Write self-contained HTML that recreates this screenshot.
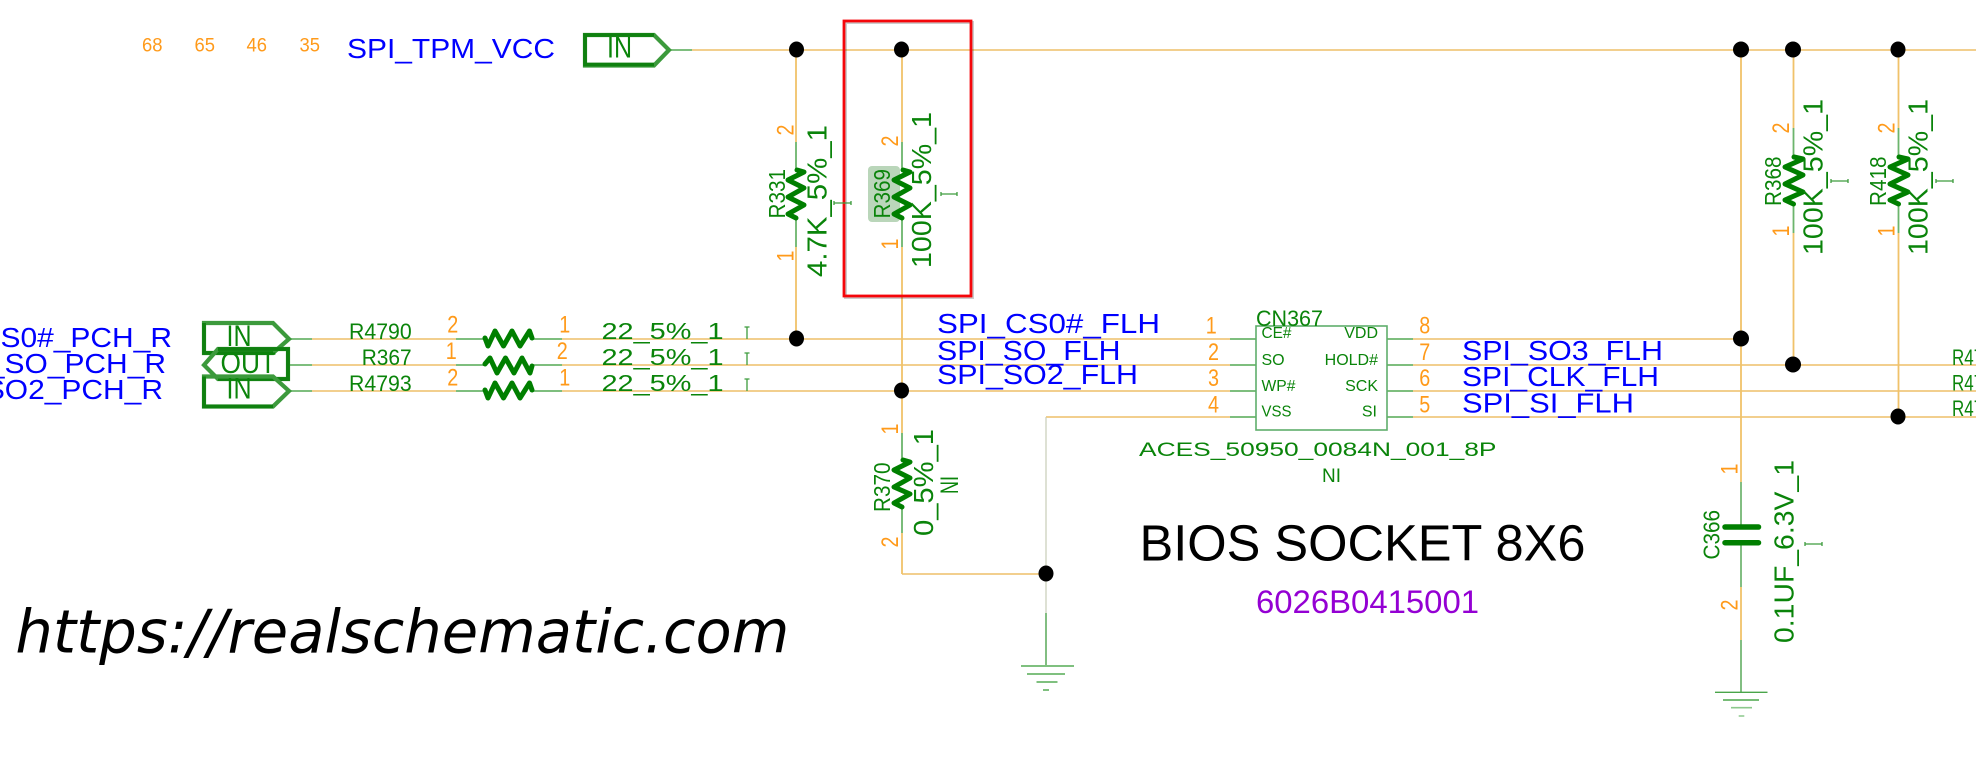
<!DOCTYPE html>
<html>
<head>
<meta charset="utf-8">
<title>BIOS SOCKET 8X6 schematic</title>
<style>
html,body{margin:0;padding:0;background:#fff;width:1976px;height:775px;overflow:hidden}
svg{display:block}
text{font-family:"Liberation Sans",sans-serif;white-space:pre}
.b{fill:#0000ff;font-size:27.500px}
.o{fill:#ff9a1a;font-size:24px}
.g{fill:#0a840a}
.w{stroke:#f2cf8e;stroke-width:2;fill:none}
.v{stroke:#f0c26a;stroke-width:1.8;fill:none}
.p{stroke:#6cb56c;stroke-width:1.8;fill:none}
.z{stroke:#007f00;stroke-width:5;fill:none;stroke-linejoin:round;stroke-linecap:round}
.m{stroke:#3d9c3d;stroke-width:1.3;fill:none}
.port{fill:none;stroke:#0f800f;stroke-width:3.800}
.port2{fill:none;stroke:#3c9a3c;stroke-width:4.200}
</style>
</head>
<body>
<svg width="1976" height="775" viewBox="0 0 1976 775" xmlns="http://www.w3.org/2000/svg">
<rect width="1976" height="775" fill="#fff"/>

<!-- highlight -->
<rect x="868" y="166" width="32" height="56" rx="4" fill="#bad6ba"/>

<!-- wires horizontal -->
<path class="p" d="M670 50H692M289 339H312M289 365H312M289 391H312M456 339H484M532 339H562M456 365H484M532 365H562M456 391H484M532 391H562M1230 339H1256M1230 365H1256M1230 391H1256M1230 417H1256M1387 339H1413M1387 365H1413M1387 391H1413M1387 417H1413"/>
<path class="w" d="M692 50H1976M312 339H456M562 339H1230M312 365H456M562 365H1230M312 391H456M562 391H1230M1413 339H1741M1413 365H1976M1413 391H1976M1413 417H1976"/>
<path class="w" d="M1046 417H1230M902 574H1040"/>

<!-- wires vertical -->
<path class="v" d="M796 50V142M796 247V339M902 50V142M902 247V433M902 533V574M1741 50V482M1741 587V640M1793.500 50V128M1793.500 233V365M1898.500 50V128M1898.500 233V417"/>
<path d="M1046 417V613" stroke="#c9cdb8" stroke-width="1.2" fill="none"/>
<path class="p" d="M796 142V170M796 218V247M902 142V170M902 218V247M902 433V458M902 508V533M1793.500 128V157M1793.500 204V233M1898.500 128V157M1898.500 204V233"/>
<path d="M1741 482V527M1741 543V587M1741 640V692M1046 613V666" stroke="#3f9c3f" stroke-width="1.3" fill="none"/>

<!-- zigzag resistors -->
<path class="z" d="M485 338L488 346L495 331L503.500 346L512 331L520 346L529.500 331L532 338"/>
<path class="z" d="M485 364L490 358L497 373L505.500 358L514 373L522 358L530 373L532 366"/>
<path class="z" d="M485 390L488 398L495 383L503.500 398L512 383L520 398L529.500 383L532 390"/>
<path class="z" d="M796 218L788 214L804 205L788 197L804 188L788 180L804 172L797 170"/>
<path class="z" d="M902 218L894 214L910 205L894 197L910 188L894 180L910 172L903 170"/>
<path class="z" d="M902 507L894 503L910 494L894 487L910 478L894 470L910 462L903 460"/>
<path class="z" d="M1793.500 204L1785 200L1803 192L1785 184L1803 175L1785 167L1803 159L1794 157"/>
<path class="z" d="M1898.500 204L1890 200L1908 192L1890 184L1908 175L1890 167L1908 159L1899 157"/>

<!-- capacitor -->
<path d="M1725 527H1758.500M1725 542.700H1758.500" stroke="#007f00" stroke-width="5.500" stroke-linecap="round"/>

<!-- grounds -->
<path d="M1715 692.300H1767.500M1723 700H1759" stroke="#4aa54a" stroke-width="1.400"/>
<path d="M1731 707.700H1752M1738.700 716H1744.300" stroke="#8cc88c" stroke-width="1.600"/>
<path d="M1021 666H1074M1027 674H1065M1036.500 682H1057.500M1043 690H1049" stroke="#7fc07f" stroke-width="2"/>

<!-- ports -->
<polygon class="port2" points="585,35 654,35 669,50 654,65.500 585,65.500"/>
<path class="port" d="M654 35H585V64.500H654"/>
<polygon class="port2" points="204,323 273,323 289,339 273,353 204,353"/>
<path class="port" d="M273 353H204V323"/>
<polygon class="port2" points="204,365 218,349 288,349 288,379 218,379"/>
<path class="port" d="M218 349H288V379H218"/>
<polygon class="port2" points="204,376.500 273,376.500 289,391 273,406.500 204,406.500"/>
<path class="port" d="M204 376.500V406.500H273"/>

<!-- chip -->
<rect x="1256" y="326" width="131" height="104" fill="#fff" stroke="#5fae6c" stroke-width="1.600"/>

<!-- dots -->
<g fill="#000">
<ellipse cx="796.500" cy="49.500" rx="7.500" ry="8"/>
<ellipse cx="901.500" cy="49.500" rx="7.500" ry="8"/>
<ellipse cx="1741" cy="49.500" rx="8" ry="8"/>
<ellipse cx="1793" cy="49.500" rx="8" ry="8"/>
<ellipse cx="1898" cy="49.500" rx="7.500" ry="8"/>
<ellipse cx="796.500" cy="338.500" rx="7.500" ry="8"/>
<ellipse cx="901.500" cy="390.500" rx="7.500" ry="8"/>
<ellipse cx="1741" cy="338.500" rx="8" ry="8"/>
<ellipse cx="1793" cy="364.500" rx="8" ry="8"/>
<ellipse cx="1898" cy="416.500" rx="7.500" ry="8"/>
<ellipse cx="1046" cy="573.500" rx="7.500" ry="8"/>
</g>

<!-- red box -->
<rect x="845.500" y="22.500" width="127" height="275" fill="none" stroke="#000" stroke-opacity="0.2" stroke-width="3"/>
<rect x="844" y="21" width="127" height="275" fill="none" stroke="#f5060a" stroke-width="2.800"/>

<!-- small markers -->
<path class="m" d="M747 327V339M744.500 327H749.500M747 353V365M744.500 353H749.500M747 379V391M744.500 379H749.500"/>
<path class="m" d="M834 203H851M834 201V205M851 201V205M941 194H957M941 192V196M957 192V196M1831 181H1848M1831 179V183M1848 179V183M1936 181H1953M1936 179V183M1953 179V183M1805 544H1822M1805 542V546M1822 542V546"/>

<!-- top-left numbers -->
<g style="fill:#ff9a1a;font-size:19.500px">
<text x="142" y="51.500" textLength="20.500" lengthAdjust="spacingAndGlyphs">68</text>
<text x="194.500" y="51.500" textLength="20.500" lengthAdjust="spacingAndGlyphs">65</text>
<text x="246.500" y="51.500" textLength="20.500" lengthAdjust="spacingAndGlyphs">46</text>
<text x="299.500" y="51.500" textLength="20.500" lengthAdjust="spacingAndGlyphs">35</text>
</g>

<!-- blue labels -->
<text class="b" x="347" y="58" textLength="208" lengthAdjust="spacingAndGlyphs">SPI_TPM_VCC</text>
<text class="b" text-anchor="end" transform="translate(172,347) scale(1.09,1)">SPI_CS0#_PCH_R</text>
<text class="b" text-anchor="end" transform="translate(166,373) scale(1.09,1)">SPI_SO_PCH_R</text>
<text class="b" text-anchor="end" transform="translate(163,399) scale(1.09,1)">SPI_SO2_PCH_R</text>
<text class="b" x="937" y="333" textLength="223" lengthAdjust="spacingAndGlyphs">SPI_CS0#_FLH</text>
<text class="b" x="937" y="360" textLength="183.500" lengthAdjust="spacingAndGlyphs">SPI_SO_FLH</text>
<text class="b" x="937" y="384" textLength="201" lengthAdjust="spacingAndGlyphs">SPI_SO2_FLH</text>
<text class="b" x="1462" y="360" textLength="201" lengthAdjust="spacingAndGlyphs">SPI_SO3_FLH</text>
<text class="b" x="1462" y="386" textLength="197" lengthAdjust="spacingAndGlyphs">SPI_CLK_FLH</text>
<text class="b" x="1462" y="412.500" textLength="172" lengthAdjust="spacingAndGlyphs">SPI_SI_FLH</text>

<!-- port labels -->
<g class="g" style="font-size:30px">
<text x="607" y="57.500" textLength="25" lengthAdjust="spacingAndGlyphs">IN</text>
<text x="226.500" y="346" textLength="25" lengthAdjust="spacingAndGlyphs">IN</text>
<text x="220.500" y="373" textLength="55.500" lengthAdjust="spacingAndGlyphs">OUT</text>
<text x="226.500" y="398.500" textLength="25" lengthAdjust="spacingAndGlyphs">IN</text>
</g>

<!-- row resistor labels -->
<g class="g" style="font-size:21.800px">
<text x="349" y="339" textLength="62.700" lengthAdjust="spacingAndGlyphs">R4790</text>
<text x="361.700" y="365" textLength="50" lengthAdjust="spacingAndGlyphs">R367</text>
<text x="349" y="391" textLength="62.700" lengthAdjust="spacingAndGlyphs">R4793</text>
<text x="1952" y="365" textLength="50" lengthAdjust="spacingAndGlyphs">R4791</text>
<text x="1952" y="390.500" textLength="50" lengthAdjust="spacingAndGlyphs">R4792</text>
<text x="1952" y="416" textLength="50" lengthAdjust="spacingAndGlyphs">R4794</text>
</g>
<g class="g" style="font-size:23px">
<text x="601.500" y="339" textLength="122" lengthAdjust="spacingAndGlyphs">22_5%_1</text>
<text x="601.500" y="365" textLength="122" lengthAdjust="spacingAndGlyphs">22_5%_1</text>
<text x="601.500" y="391" textLength="122" lengthAdjust="spacingAndGlyphs">22_5%_1</text>
</g>

<!-- pin numbers horizontal -->
<g class="o">
<text x="447.300" y="332.700" textLength="11" lengthAdjust="spacingAndGlyphs">2</text>
<text x="559.300" y="332.700" textLength="11" lengthAdjust="spacingAndGlyphs">1</text>
<text x="445.700" y="359" textLength="11" lengthAdjust="spacingAndGlyphs">1</text>
<text x="556.700" y="359" textLength="11" lengthAdjust="spacingAndGlyphs">2</text>
<text x="447.300" y="385.300" textLength="11" lengthAdjust="spacingAndGlyphs">2</text>
<text x="559.300" y="385.300" textLength="11" lengthAdjust="spacingAndGlyphs">1</text>
<text x="1205.800" y="333.300" textLength="11" lengthAdjust="spacingAndGlyphs">1</text>
<text x="1208" y="360" textLength="11" lengthAdjust="spacingAndGlyphs">2</text>
<text x="1208" y="386" textLength="11" lengthAdjust="spacingAndGlyphs">3</text>
<text x="1208" y="412.300" textLength="11" lengthAdjust="spacingAndGlyphs">4</text>
<text x="1419.300" y="333.300" textLength="11" lengthAdjust="spacingAndGlyphs">8</text>
<text x="1419.300" y="360" textLength="11" lengthAdjust="spacingAndGlyphs">7</text>
<text x="1419.300" y="386" textLength="11" lengthAdjust="spacingAndGlyphs">6</text>
<text x="1419.300" y="412.300" textLength="11" lengthAdjust="spacingAndGlyphs">5</text>
</g>

<!-- chip text -->
<text class="g" x="1256" y="326" textLength="67" lengthAdjust="spacingAndGlyphs" style="font-size:22px">CN367</text>
<g class="g" style="font-size:16px">
<text x="1261.500" y="338" textLength="30" lengthAdjust="spacingAndGlyphs">CE#</text>
<text x="1261.500" y="365">SO</text>
<text x="1261.500" y="391" textLength="34" lengthAdjust="spacingAndGlyphs">WP#</text>
<text x="1261.500" y="416.500" textLength="30" lengthAdjust="spacingAndGlyphs">VSS</text>
<g text-anchor="end">
<text x="1378" y="338">VDD</text>
<text x="1378" y="365">HOLD#</text>
<text x="1378" y="391">SCK</text>
<text x="1377" y="416.500">SI</text>
</g>
</g>
<text class="g" x="1139" y="456" textLength="357.500" lengthAdjust="spacingAndGlyphs" style="font-size:19.500px">ACES_50950_0084N_001_8P</text>
<text class="g" x="1322" y="482" textLength="19" lengthAdjust="spacingAndGlyphs" style="font-size:19.500px">NI</text>

<!-- title -->
<text x="1139.500" y="560.500" textLength="446" lengthAdjust="spacingAndGlyphs" style="font-size:51px;fill:#000">BIOS SOCKET 8X6</text>
<text x="1256" y="613" textLength="223" lengthAdjust="spacingAndGlyphs" style="font-size:32px;fill:#9400d3">6026B0415001</text>

<!-- watermark -->
<text x="15.400" y="652.500" textLength="774" lengthAdjust="spacingAndGlyphs" style="font-family:'DejaVu Sans',sans-serif;font-style:italic;font-size:60px;fill:#000">https://realschematic.com</text>

<!-- rotated references -->
<g class="g" style="font-size:23px">
<text transform="translate(785,218.500) rotate(-90)" textLength="49.500" lengthAdjust="spacingAndGlyphs">R331</text>
<text transform="translate(890,218.500) rotate(-90)" textLength="49.500" lengthAdjust="spacingAndGlyphs">R369</text>
<text transform="translate(890,512) rotate(-90)" textLength="49.500" lengthAdjust="spacingAndGlyphs">R370</text>
<text transform="translate(1781,206) rotate(-90)" textLength="49.500" lengthAdjust="spacingAndGlyphs">R368</text>
<text transform="translate(1886,206) rotate(-90)" textLength="49.500" lengthAdjust="spacingAndGlyphs">R418</text>
<text transform="translate(1719.300,559.500) rotate(-90)" textLength="49.500" lengthAdjust="spacingAndGlyphs">C366</text>
</g>
<g class="g" style="font-size:28px">
<text transform="translate(826.700,277) rotate(-90)" textLength="152" lengthAdjust="spacingAndGlyphs">4.7K_5%_1</text>
<text transform="translate(931,268) rotate(-90)" textLength="156" lengthAdjust="spacingAndGlyphs">100K_5%_1</text>
<text transform="translate(933,536) rotate(-90)" textLength="107" lengthAdjust="spacingAndGlyphs">0_5%_1</text>
<text transform="translate(1822.500,255) rotate(-90)" textLength="156" lengthAdjust="spacingAndGlyphs">100K_5%_1</text>
<text transform="translate(1927.500,255) rotate(-90)" textLength="156" lengthAdjust="spacingAndGlyphs">100K_5%_1</text>
<text transform="translate(1793.300,643) rotate(-90)" textLength="183" lengthAdjust="spacingAndGlyphs">0.1UF_6.3V_1</text>
</g>
<text class="g" transform="translate(958,494) rotate(-90)" textLength="18" lengthAdjust="spacingAndGlyphs" style="font-size:25px">NI</text>

<!-- rotated pin numbers -->
<g class="o">
<text transform="translate(793.300,135.500) rotate(-90)" textLength="11" lengthAdjust="spacingAndGlyphs">2</text>
<text transform="translate(793.300,261.500) rotate(-90)" textLength="11" lengthAdjust="spacingAndGlyphs">1</text>
<text transform="translate(898,146.500) rotate(-90)" textLength="11" lengthAdjust="spacingAndGlyphs">2</text>
<text transform="translate(898,249.500) rotate(-90)" textLength="11" lengthAdjust="spacingAndGlyphs">1</text>
<text transform="translate(898,434.500) rotate(-90)" textLength="11" lengthAdjust="spacingAndGlyphs">1</text>
<text transform="translate(898,547.500) rotate(-90)" textLength="11" lengthAdjust="spacingAndGlyphs">2</text>
<text transform="translate(1789,133.500) rotate(-90)" textLength="11" lengthAdjust="spacingAndGlyphs">2</text>
<text transform="translate(1789,236.500) rotate(-90)" textLength="11" lengthAdjust="spacingAndGlyphs">1</text>
<text transform="translate(1894.500,133.500) rotate(-90)" textLength="11" lengthAdjust="spacingAndGlyphs">2</text>
<text transform="translate(1894.500,236.500) rotate(-90)" textLength="11" lengthAdjust="spacingAndGlyphs">1</text>
<text transform="translate(1737.500,474.500) rotate(-90)" textLength="11" lengthAdjust="spacingAndGlyphs">1</text>
<text transform="translate(1737.500,610.500) rotate(-90)" textLength="11" lengthAdjust="spacingAndGlyphs">2</text>
</g>
</svg>
</body>
</html>
